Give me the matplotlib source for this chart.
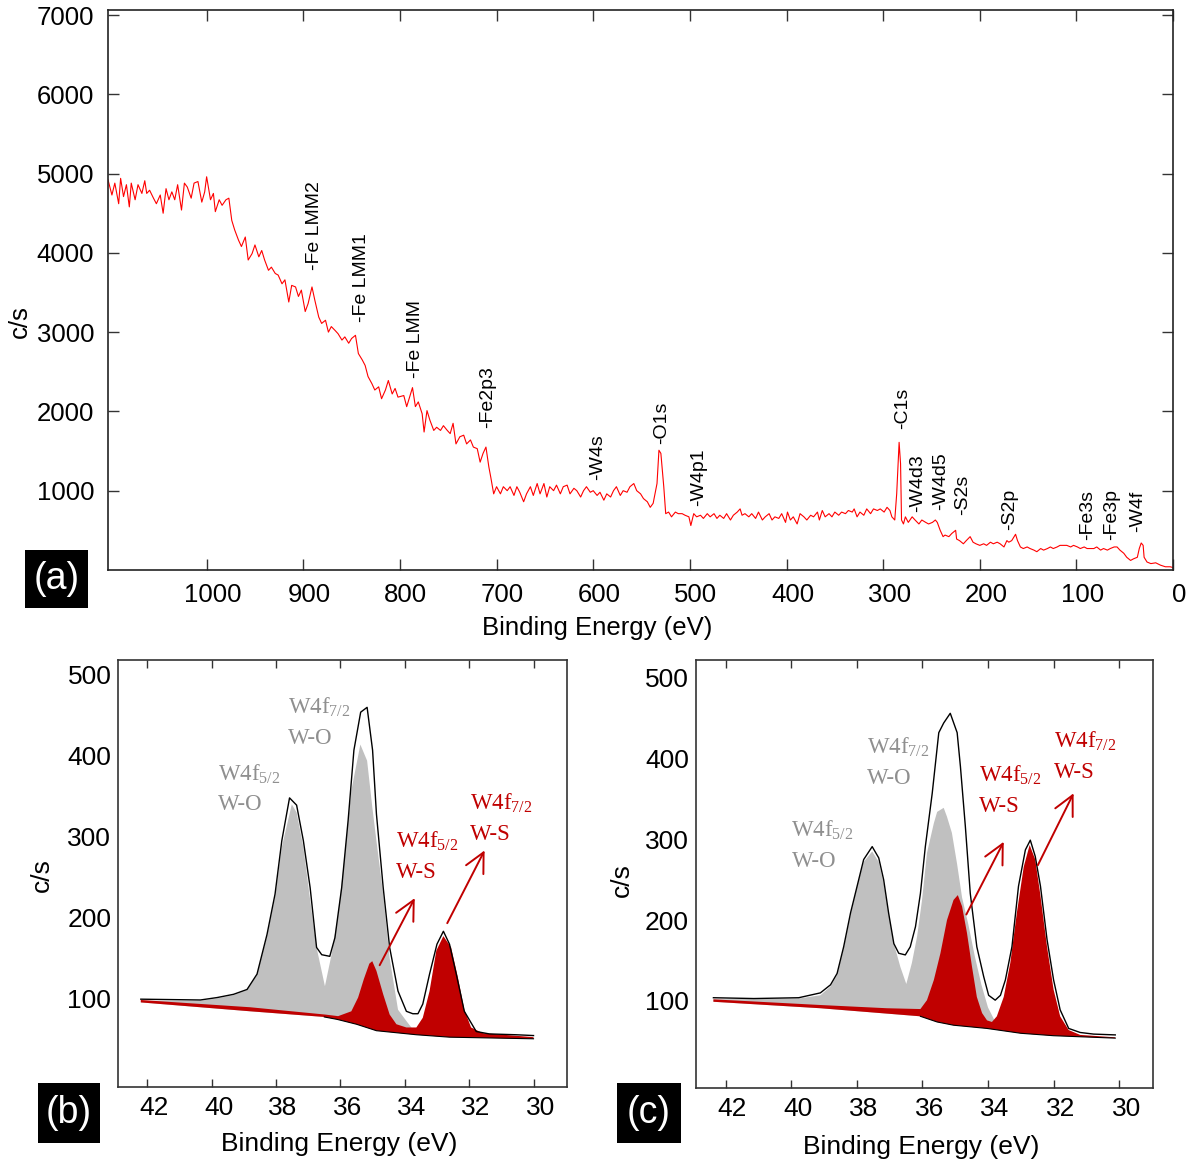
import numpy as np
import matplotlib
matplotlib.use('Agg')
import matplotlib.pyplot as plt
from matplotlib.patches import Rectangle
from matplotlib.transforms import ScaledTranslation

plt.rcParams['font.family'] = ['Liberation Sans', 'DejaVu Sans']

# ---- (a) survey spectrum ----
survey_be = [1102, 1098, 1095, 1091, 1089, 1086, 1083, 1080, 1078, 1074, 1071, 1067, 1064, 1062,
             1059, 1055, 1052, 1048, 1045, 1042, 1039, 1036, 1033, 1030, 1026, 1023, 1020, 1016,
             1013, 1009, 1005, 1002, 1000, 996, 993, 991, 987, 984, 980, 977, 974, 971, 967, 964,
             960, 957, 953, 950, 946, 943, 940, 936, 933, 929, 926, 922, 919, 915, 912, 908, 905,
             902, 898, 895, 891, 888, 884, 881, 877, 874, 871, 867, 864, 860, 857, 853, 850, 846,
             843, 839, 836, 833, 829, 826, 822, 819, 815, 812, 808, 805, 802,
             796, 793, 789, 787, 784, 781, 777, 775, 772, 769, 765, 762, 758, 755, 751, 748, 745,
             742, 738, 734, 731, 727, 724, 720, 717, 714, 711, 708, 706, 703, 700, 696, 693, 689,
             686, 682, 679, 676, 672, 669, 665, 662, 658, 655, 651, 648, 645, 641, 638, 634, 631,
             627, 624, 620, 617, 613, 610, 607, 603, 600, 596, 593, 589, 586, 582, 579, 576, 572,
             569, 565, 562, 558, 555, 551, 548, 544, 541, 538, 534, 532, 530, 527, 525, 522, 519,
             515, 512, 508, 505, 501, 499,
             496, 493, 489, 486, 482, 479, 475, 472, 469, 465, 462, 458, 455, 451, 448, 446, 443,
             439, 436, 432, 429, 425, 422, 418, 415, 412, 408, 405, 401, 399, 396, 393, 389, 386,
             382, 379, 375, 372, 368, 366, 363, 360, 356, 353, 350, 346, 343, 339, 336, 332, 330,
             327, 324, 320, 317, 313, 310, 306, 303, 299, 296, 293, 291, 288, 286, 284.6, 283.5,
             282, 281, 279, 277, 274, 270, 267, 263, 260, 256, 253, 249, 246, 244, 241, 238, 236,
             232, 229, 225, 224, 221, 217, 214, 210, 207, 204, 200, 196, 193, 189, 186, 182, 179,
             175, 172, 170, 167, 163, 161, 158, 155, 151, 148, 144, 141, 137, 134, 130, 127, 124,
             120, 117, 113, 110, 106, 103, 99, 96, 92, 89, 86, 82, 79, 75, 72, 68, 65, 61, 58, 55,
             51, 48, 44, 41, 37, 35, 33, 31, 30, 27, 23, 18, 13, 8, 3, 0]
survey_cps = [4920, 4730, 4880, 4620, 4940, 4710, 4860, 4580, 4880, 4670, 4860, 4750, 4910, 4750,
              4790, 4690, 4620, 4730, 4500, 4810, 4670, 4770, 4670, 4860, 4540, 4880, 4830, 4690,
              4880, 4900, 4640, 4770, 4960, 4670, 4750, 4520, 4670, 4600, 4670, 4690, 4410, 4290,
              4160, 4080, 4200, 3910, 3990, 4100, 3950, 4030, 3910, 3780, 3820, 3740, 3720, 3610,
              3660, 3380, 3590, 3570, 3450, 3530, 3260, 3360, 3570, 3400, 3190, 3110, 3150, 3000,
              3070, 3020, 2980, 2900, 2940, 2860, 2920, 2960, 2730, 2650, 2580, 2440, 2350, 2270,
              2310, 2160, 2270, 2390, 2220, 2290, 2180,
              2200, 2060, 2220, 2300, 2060, 2120, 1970, 1740, 2010, 1890, 1760, 1800, 1760, 1820,
              1760, 1720, 1850, 1590, 1680, 1700, 1590, 1640, 1550, 1530, 1360, 1470, 1550, 1300,
              1170, 960, 1050, 960, 1050, 1000, 1050, 940, 1050, 980, 860, 960, 1050, 940, 1090,
              960, 1090, 920, 1050, 1000, 1070, 960, 1050, 1070, 960, 1030, 1000, 920, 1000, 1050,
              980, 1000, 940, 980, 880, 960, 920, 1000, 1050, 940, 1000, 980, 1050, 1090, 1000, 960,
              900, 860, 790, 840, 1090, 1510, 1470, 1050, 710, 730, 670, 730, 710, 710, 690, 670,
              560,
              710, 670, 690, 650, 710, 670, 710, 650, 690, 650, 710, 630, 690, 730, 770, 690, 710,
              670, 710, 650, 730, 630, 670, 710, 630, 670, 650, 710, 600, 730, 630, 670, 580, 710,
              670, 630, 690, 670, 730, 630, 750, 670, 710, 670, 730, 690, 730, 710, 750, 730, 770,
              670, 730, 690, 770, 710, 770, 750, 770, 730, 790, 750, 670, 630, 960, 1340, 1610,
              1340, 630, 580, 670, 600, 670, 630, 580, 630, 600, 580, 600, 630, 600, 500, 420, 440,
              420, 460, 500, 390, 370, 330, 370, 420, 350, 330, 310, 330, 310, 350, 330, 350, 330,
              290, 370, 350, 370, 450, 370, 290, 270, 290, 270, 250, 230, 270, 250, 270, 290, 270,
              290, 310, 310, 310, 290, 310, 290, 270, 290, 270, 270, 270, 290, 250, 270, 250, 270,
              290, 290, 250, 210, 160, 120, 140, 160, 270, 340, 310, 160, 100, 80, 90, 60, 40, 40,
              30]

survey_peaks = ['-Fe LMM2', '-Fe LMM1', '-Fe LMM', '-Fe2p3', '-W4s', '-O1s', '-W4p1', '-C1s',
                '-W4d3', '-W4d5', '-S2s', '-S2p', '-Fe3s', '-Fe3p', '-W4f']
survey_peak_be = [888, 840, 784, 709, 595, 529, 491, 280, 264, 241, 218, 169, 88, 64, 37]
survey_peak_cps = [3780, 3130, 2420, 1790, 1130, 1590, 810, 1780, 730, 750, 690, 500, 380, 380, 480]

# ---- (b) W4f high resolution ----
b_env_be = [42.2, 40.35, 39.83, 39.32, 38.9, 38.59, 38.28, 38.03, 37.82, 37.58, 37.36, 37.15, 36.94,
            36.74, 36.58, 36.33, 36.17, 35.96, 35.76, 35.58, 35.37, 35.17, 35.0, 34.88, 34.67, 34.47,
            34.21, 33.95, 33.75, 33.59, 33.44, 33.23, 33.0, 32.8, 32.61, 32.4, 32.15, 31.78, 31.37,
            30.54, 30.0]
b_env_cps = [99, 98, 101, 105, 111, 130, 179, 229, 295, 348, 339, 295, 237, 163, 154, 152, 175, 237,
             320, 407, 454, 460, 407, 328, 237, 163, 109, 84, 81, 81, 93, 130, 167, 183, 167, 130, 84,
             59, 56, 55, 54]
b_wo_be = [42.2, 40.35, 39.83, 39.32, 38.91, 38.60, 38.29, 38.03, 37.82, 37.51, 37.36, 37.15, 36.95,
           36.74, 36.48, 36.27, 36.07, 35.86, 35.66, 35.38, 35.17, 35.01, 34.88, 34.67, 34.47, 34.21,
           33.95, 33.64]
b_wo_cps = [97, 97, 100, 104, 110, 128, 175, 225, 287, 340, 330, 287, 225, 163, 115, 155, 204, 279,
            357, 414, 394, 337, 295, 229, 150, 86, 72, 56]
b_ws_be = [42.2, 38.8, 36.48, 36.07, 35.66, 35.45, 35.27, 35.10, 35.01, 34.88, 34.67, 34.47, 34.26,
           33.95, 33.64, 33.44, 33.23, 33.02, 32.8, 32.56, 32.35, 32.15, 31.94, 31.58, 30.0]
b_ws_cps = [98, 89, 80, 78, 84, 101, 124, 143, 146, 134, 105, 80, 68, 64, 64, 76, 109, 159, 177, 163,
            126, 86, 64, 57, 52]
b_bg_be = [42.2, 38.8, 36.5, 36.1, 35.5, 34.88, 33.64, 32.61, 30.0]
b_bg_cps = [95, 84, 77, 74, 68, 60, 55, 52, 50]

# ---- (c) W4f high resolution ----
c_env_be = [42.37, 41.14, 39.77, 39.11, 38.80, 38.60, 38.40, 38.19, 37.99, 37.79, 37.53, 37.33,
            37.18, 37.03, 36.87, 36.72, 36.52, 36.37, 36.21, 36.06, 35.91, 35.70, 35.50, 35.35,
            35.15, 34.94, 34.84, 34.69, 34.54, 34.34, 34.13, 33.98, 33.78, 33.62, 33.47, 33.27,
            33.07, 32.86, 32.71, 32.56, 32.40, 32.20, 32.00, 31.80, 31.54, 31.19, 30.78, 30.12]
c_env_cps = [104, 103, 104, 110, 120, 134, 167, 209, 242, 275, 291, 277, 250, 209, 171, 159, 157,
             167, 192, 233, 291, 357, 432, 444, 456, 432, 390, 316, 233, 167, 130, 107, 101, 107,
             126, 167, 242, 287, 299, 279, 242, 176, 126, 89, 66, 61, 59, 58]
c_wo_be = [42.37, 39.77, 39.11, 38.80, 38.60, 38.40, 38.19, 37.99, 37.79, 37.53, 37.33, 37.18,
           37.03, 36.87, 36.67, 36.49, 36.32, 36.16, 36.01, 35.86, 35.65, 35.55, 35.35, 35.25,
           35.10, 34.94, 34.79, 34.6, 34.4, 34.2, 34.0, 33.8, 33.55]
c_wo_cps = [102, 103, 107, 118, 132, 165, 206, 242, 272, 285, 272, 246, 208, 171, 142, 121, 147,
            180, 225, 283, 320, 334, 339, 328, 308, 269, 228, 195, 155, 120, 92, 76, 64]
c_ws_be = [42.37, 39.11, 37.08, 36.06, 35.86, 35.65, 35.45, 35.25, 35.05, 34.92, 34.79, 34.64,
           34.49, 34.34, 34.18, 34.03, 33.88, 33.73, 33.52, 33.32, 33.12, 32.91, 32.73, 32.56,
           32.41, 32.20, 32.00, 31.80, 31.54, 31.19, 30.12]
c_ws_cps = [102, 95, 91, 90, 101, 126, 159, 200, 225, 231, 217, 184, 143, 105, 85, 76, 74, 81, 105,
            147, 209, 266, 293, 275, 233, 167, 114, 81, 64, 58, 55]
c_bg_be = [42.37, 39.11, 36.06, 35.55, 35.05, 34.03, 33.0, 32.0, 30.12]
c_bg_cps = [99, 91, 81, 74, 70, 66, 60, 57, 54]

hr_ticks = [42, 40, 38, 36, 34, 32, 30]
cps_ticks = [100, 200, 300, 400, 500]

# label text, left/top position (eV, c/s), colour
b_labels = [('W4f$\\mathregular{_{5/2}}$\nW-O', 39.81, 392, 'grey'),
            ('W4f$\\mathregular{_{7/2}}$\nW-O', 37.63, 474, 'grey'),
            ('W4f$\\mathregular{_{5/2}}$\nW-S', 34.26, 309, 'red'),
            ('W4f$\\mathregular{_{7/2}}$\nW-S', 31.96, 356, 'red')]
b_arrows = [((34.78, 141), (33.69, 224)), ((32.68, 193), (31.52, 283))]
c_labels = [('W4f$\\mathregular{_{5/2}}$\nW-O', 39.99, 325, 'grey'),
            ('W4f$\\mathregular{_{7/2}}$\nW-O', 37.69, 428, 'grey'),
            ('W4f$\\mathregular{_{5/2}}$\nW-S', 34.26, 393, 'red'),
            ('W4f$\\mathregular{_{7/2}}$\nW-S', 32.0, 436, 'red')]
c_arrows = [((34.66, 207), (33.52, 297)), ((32.48, 268), (31.39, 357))]

GREY_FILL = '#c0c0c0'
RED_FILL = '#c00000'
TXT = {'grey': '#8f8f8f', 'red': '#c00000'}

fig = plt.figure(figsize=(11.9, 11.66), dpi=100)


def shift_xlabels(ax, dx_px):
    off = ScaledTranslation(dx_px / 100.0, 0, fig.dpi_scale_trans)
    for lab in ax.get_xticklabels():
        lab.set_transform(lab.get_transform() + off)


def panel_tag(x0, y0, w, h, s):
    fig.add_artist(Rectangle((x0, y0), w, h, transform=fig.transFigure,
                             facecolor='black', edgecolor='none'))
    fig.text(x0 + w / 2, y0 + h / 2, s, color='white', fontsize=27,
             ha='center', va='center')


# ---------------- (a) ----------------
ax = fig.add_axes([0.0908, 0.5112, 0.8950, 0.4803])
ax.plot(survey_be, survey_cps, color='#ff0000', lw=0.8)
ax.set_xlim(1102, 0)
ax.set_ylim(0, 7065)
ax.set_xticks(np.arange(1000, -1, -100))
ax.set_yticks(np.arange(1000, 7001, 1000))
ax.tick_params(direction='in', top=True, right=True, length=8, width=1.0,
               labelsize=18.5, color='#333333')
ax.tick_params(axis='x', pad=9.5)
ax.tick_params(axis='y', pad=10)
for sp in ax.spines.values():
    sp.set_linewidth(1.2)
    sp.set_color('#222222')
ax.set_xlabel('Binding Energy (eV)', fontsize=18.5, va='center')
ax.xaxis.set_label_coords(0.459, -0.104)
ax.set_ylabel('c/s', fontsize=18.5, va='center')
ax.yaxis.set_label_coords(-0.083, 0.443)
for name, be, cps in zip(survey_peaks, survey_peak_be, survey_peak_cps):
    ax.text(be, cps, name, rotation=90, ha='center', va='bottom', fontsize=14)
shift_xlabels(ax, 6)
panel_tag(0.0210, 0.4786, 0.0529, 0.0497, '(a)')


def hr_panel(rect, ylim, env_be, env_cps, wo_be, wo_cps, ws_be, ws_cps, bg_be, bg_cps,
             labels, arrows, ylab_x, ylab_y, xlab_y):
    ax = fig.add_axes(rect)
    # W-O component (grey), drawn on the background
    ax.fill(np.r_[wo_be, bg_be[::-1]], np.r_[wo_cps, bg_cps[::-1]],
            color=GREY_FILL, lw=0, zorder=1)
    # W-S component (dark red) on top
    ax.fill(np.r_[ws_be, bg_be[::-1]], np.r_[ws_cps, bg_cps[::-1]],
            color=RED_FILL, lw=0, zorder=2)
    bg_be_a = np.array(bg_be)
    m = bg_be_a <= 36.6
    ax.plot(bg_be_a[m], np.array(bg_cps)[m], color='black', lw=0.8, zorder=3)
    ax.plot(env_be, env_cps, color='black', lw=1.0, zorder=4)
    ax.set_xlim(42.9, 28.97)
    ax.set_ylim(*ylim)
    ax.set_xticks(hr_ticks)
    ax.set_yticks(cps_ticks)
    ax.tick_params(axis='x', direction='in', top=True, length=6, width=1.0,
                   labelsize=19, pad=6.5, color='#333333')
    ax.tick_params(axis='y', length=0, labelsize=19, pad=5)
    for sp in ax.spines.values():
        sp.set_linewidth(1.2)
        sp.set_color('#333333')
    ax.set_xlabel('Binding Energy (eV)', fontsize=19, va='center')
    ax.xaxis.set_label_coords(0.492, xlab_y)
    ax.set_ylabel('c/s', fontsize=19, va='center')
    ax.yaxis.set_label_coords(ylab_x, ylab_y)
    for s, be, cps, col in labels:
        ax.text(be, cps, s, ha='left', va='top', color=TXT[col], fontsize=16.5,
                family=['Liberation Serif', 'DejaVu Serif'], linespacing=1.55, zorder=5)
    for (x0, y0), (x1, y1) in arrows:
        ax.annotate('', xy=(x1, y1), xytext=(x0, y0),
                    arrowprops=dict(arrowstyle='->,head_length=0.7,head_width=0.35',
                                    color=RED_FILL, lw=1.4, shrinkA=0, shrinkB=0,
                                    mutation_scale=20), zorder=5)
    shift_xlabels(ax, 7)
    return ax


hr_panel([0.0994, 0.0675, 0.3768, 0.3665], (-10, 518.6),
         b_env_be, b_env_cps, b_wo_be, b_wo_cps, b_ws_be, b_ws_cps, b_bg_be, b_bg_cps,
         b_labels, b_arrows, -0.170, 0.497, -0.133)
panel_tag(0.0319, 0.0197, 0.0521, 0.0515, '(b)')

hr_panel([0.5849, 0.0669, 0.3840, 0.3671], (-7.7, 522),
         c_env_be, c_env_cps, c_wo_be, c_wo_cps, c_ws_be, c_ws_cps, c_bg_be, c_bg_cps,
         c_labels, c_arrows, -0.162, 0.486, -0.138)
panel_tag(0.5185, 0.0197, 0.0538, 0.0515, '(c)')

fig.savefig('out.png', dpi=100)
